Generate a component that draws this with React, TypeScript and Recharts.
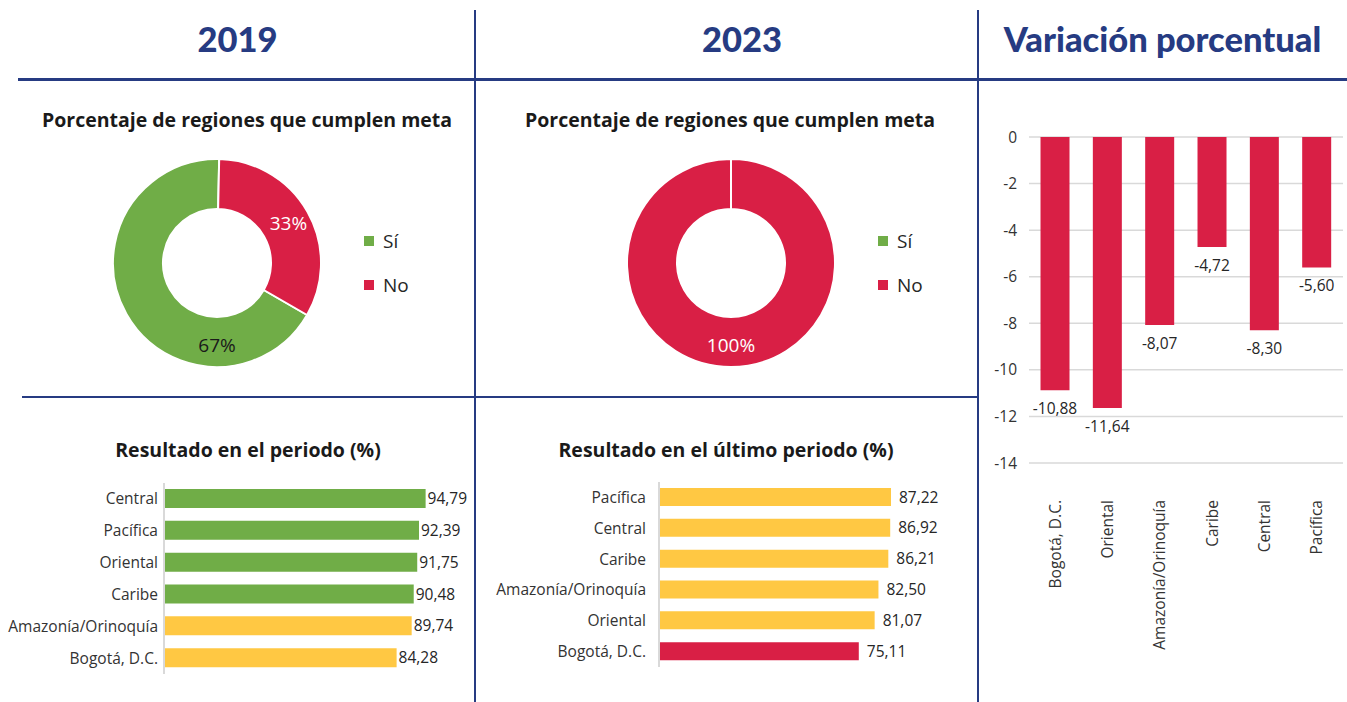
import { PieChart, Pie, Cell, BarChart, Bar, XAxis, YAxis, CartesianGrid, LabelList, Legend } from 'recharts'

// donut data: share of regions meeting the goal
const pieNames = ['Sí', 'No']
const pie2019 = [67, 33]
const pie2023 = [0, 100]

// result per region (%)
const regions2019 = ['Central', 'Pacífica', 'Oriental', 'Caribe', 'Amazonía/Orinoquía', 'Bogotá, D.C.']
const values2019 = [94.79, 92.39, 91.75, 90.48, 89.74, 84.28]
const regions2023 = ['Pacífica', 'Central', 'Caribe', 'Amazonía/Orinoquía', 'Oriental', 'Bogotá, D.C.']
const values2023 = [87.22, 86.92, 86.21, 82.5, 81.07, 75.11]

// percentage change
const varRegions = ['Bogotá, D.C.', 'Oriental', 'Amazonía/Orinoquía', 'Caribe', 'Central', 'Pacífica']
const varValues = [-10.88, -11.64, -8.07, -4.72, -8.3, -5.6]
const varTicks = [0, -2, -4, -6, -8, -10, -12, -14]

const NAVY = '#263b82'
const GREEN = '#70ad47'
const YELLOW = '#ffc843'
const RED = '#d91f45'
const FONT = '"Open Sans", Lato, sans-serif'
const TITLE_FONT = 'Lato, "Open Sans", sans-serif'

const pieColors = [GREEN, RED]
const fmt = (v: number) => v.toFixed(2).replace('.', ',')
const barColor = (v: number) => (v >= 90 ? GREEN : v >= 80 ? YELLOW : RED)

const RADIAN = Math.PI / 180

// label angle tweaks (the Excel label for "Sí" in 2019 sits at the bottom)
function makePieLabel(angleOverride: Record<string, number>) {
  return (props: any) => {
    const { cx, cy, midAngle, innerRadius, outerRadius, value, name } = props
    if (!value) return null
    const a = angleOverride[name] ?? midAngle
    const r = (innerRadius + outerRadius) / 2 + 3
    const x = cx + r * Math.cos(-a * RADIAN)
    const y = cy + r * Math.sin(-a * RADIAN)
    return (
      <text x={x} y={y} textAnchor="middle" dominantBaseline="central" fontSize={19}
        fill={name === 'No' ? '#ffffff' : '#1a1a1a'} fontFamily={FONT}>
        {value}%
      </text>
    )
  }
}

function PieLegend() {
  return (
    <div style={{ fontFamily: FONT, fontSize: 19, color: '#262626' }}>
      {pieNames.map((n, i) => (
        <div key={n} style={{ display: 'flex', alignItems: 'center', height: 44 }}>
          <span style={{ width: 10, height: 10, background: pieColors[i], marginRight: 9 }} />
          {n}
        </div>
      ))}
    </div>
  )
}

function Donut({ values, startAngle, override }: { values: number[]; startAngle: number; override: Record<string, number> }) {
  const data = pieNames.map((name, i) => ({ name, value: values[i] }))
  return (
    <PieChart width={360} height={240} margin={{ top: 0, right: 0, bottom: 0, left: 0 }}>
      <Pie data={data} dataKey="value" nameKey="name" cx={117} cy={113} innerRadius={54} outerRadius={104}
        startAngle={startAngle} endAngle={startAngle - 360} stroke="#ffffff" strokeWidth={2}
        label={makePieLabel(override)} labelLine={false} isAnimationActive={false}>
        {data.map((d, i) => <Cell key={d.name} fill={pieColors[i]} />)}
      </Pie>
      <Legend content={<PieLegend />} layout="vertical" wrapperStyle={{ left: 264, top: 69, width: 80 }} />
    </PieChart>
  )
}

function HBars({ cats, values, width, height, axisW, margin, barSize, labelOffset, tickGap }: any) {
  const data = cats.map((c: string, i: number) => ({ region: c, value: values[i] }))
  return (
    <BarChart layout="vertical" width={width} height={height} data={data} margin={margin} barSize={barSize}>
      <XAxis type="number" domain={[0, 100]} hide />
      <YAxis type="category" dataKey="region" width={axisW} tickLine={false} tickSize={0} tickMargin={tickGap}
        axisLine={{ stroke: '#d9d9d9', strokeWidth: 2 }} interval={0}
        tick={{ fill: '#333333', fontSize: 15.5, fontFamily: FONT }} />
      <Bar dataKey="value" isAnimationActive={false}>
        {data.map((d: any) => <Cell key={d.region} fill={barColor(d.value)} />)}
        <LabelList dataKey="value" position="right" offset={labelOffset} formatter={(v: any) => fmt(Number(v))}
          style={{ fill: '#262626', fontSize: 15.5, fontFamily: FONT }} />
      </Bar>
    </BarChart>
  )
}

function RotatedTick({ x, y, payload }: any) {
  return (
    <text x={x} y={y} transform={`rotate(-90 ${x} ${y})`} textAnchor="end" dy="0.35em"
      fontSize={15.5} fill="#333333" fontFamily={FONT}>
      {payload.value}
    </text>
  )
}

function VarLabel({ x, y, width, height, value }: any) {
  const bottom = Math.max(y, y + height)
  return (
    <text x={x + width / 2} y={bottom + 18} textAnchor="middle" dominantBaseline="central"
      fontSize={15.5} fill="#262626" fontFamily={FONT}>
      {fmt(Number(value))}
    </text>
  )
}

const title: React.CSSProperties = {
  position: 'absolute', top: 18, fontSize: 34.5, fontWeight: 900, color: NAVY, textAlign: 'center', fontFamily: TITLE_FONT,
}
const subtitle: React.CSSProperties = {
  position: 'absolute', fontSize: 19.5, fontWeight: 700, color: '#1a1a1a', textAlign: 'center', fontFamily: FONT,
}

export default function App() {
  const varData = varRegions.map((r, i) => ({ region: r, value: varValues[i] }))
  return (
    <div style={{ position: 'absolute', left: 0, top: 0, width: 1347, height: 702, background: '#fff', overflow: 'hidden', fontFamily: FONT }}>
      {/* frame lines */}
      <div style={{ position: 'absolute', left: 18, top: 78, width: 1329, height: 2.5, background: NAVY }} />
      <div style={{ position: 'absolute', left: 22, top: 396, width: 955, height: 1.5, background: NAVY }} />
      <div style={{ position: 'absolute', left: 474, top: 10, width: 1.5, height: 692, background: NAVY }} />
      <div style={{ position: 'absolute', left: 977, top: 10, width: 1.5, height: 692, background: NAVY }} />

      <div style={{ ...title, left: 0, width: 475 }}>2019</div>
      <div style={{ ...title, left: 484, width: 516 }}>2023</div>
      <div style={{ ...title, left: 978, width: 369 }}>Variación porcentual</div>

      <div style={{ ...subtitle, left: 0, width: 494, top: 106 }}>Porcentaje de regiones que cumplen meta</div>
      <div style={{ ...subtitle, left: 480, width: 500, top: 106 }}>Porcentaje de regiones que cumplen meta</div>
      <div style={{ ...subtitle, left: 0, width: 496, top: 436 }}>Resultado en el periodo (%)</div>
      <div style={{ ...subtitle, left: 476, width: 500, top: 436 }}>Resultado en el último periodo (%)</div>

      <div style={{ position: 'absolute', left: 100, top: 150 }}>
        <Donut values={pie2019} startAngle={-30} override={{ 'Sí': -90 }} />
      </div>
      <div style={{ position: 'absolute', left: 614, top: 150 }}>
        <Donut values={pie2023} startAngle={90} override={{}} />
      </div>

      <div style={{ position: 'absolute', left: 0, top: 470 }}>
        <HBars cats={regions2019} values={values2019} width={475} height={220} axisW={164}
          margin={{ top: 13, right: 35, bottom: 16, left: 0 }} barSize={19} labelOffset={2} tickGap={6} />
      </div>
      <div style={{ position: 'absolute', left: 476, top: 470 }}>
        <HBars cats={regions2023} values={values2023} width={500} height={210} axisW={183}
          margin={{ top: 12, right: 51, bottom: 13, left: 0 }} barSize={18} labelOffset={8} tickGap={13} />
      </div>

      <div style={{ position: 'absolute', left: 980, top: 100 }}>
        <BarChart width={367} height={602} data={varData} margin={{ top: 37, right: 4, bottom: 39, left: 0 }} barCategoryGap="22%">
          <CartesianGrid vertical={false} stroke="#d9d9d9" strokeWidth={1.5} />
          <XAxis dataKey="region" height={200} axisLine={false} tickLine={false} tickMargin={31} interval={0} tick={<RotatedTick />} />
          <YAxis domain={[-14, 0]} ticks={varTicks} width={49} axisLine={false} tickLine={false} tickMargin={6}
            tick={{ fill: '#333333', fontSize: 15.5, fontFamily: FONT }} />
          <Bar dataKey="value" fill={RED} isAnimationActive={false}>
            <LabelList dataKey="value" content={<VarLabel />} />
          </Bar>
        </BarChart>
      </div>
    </div>
  )
}
